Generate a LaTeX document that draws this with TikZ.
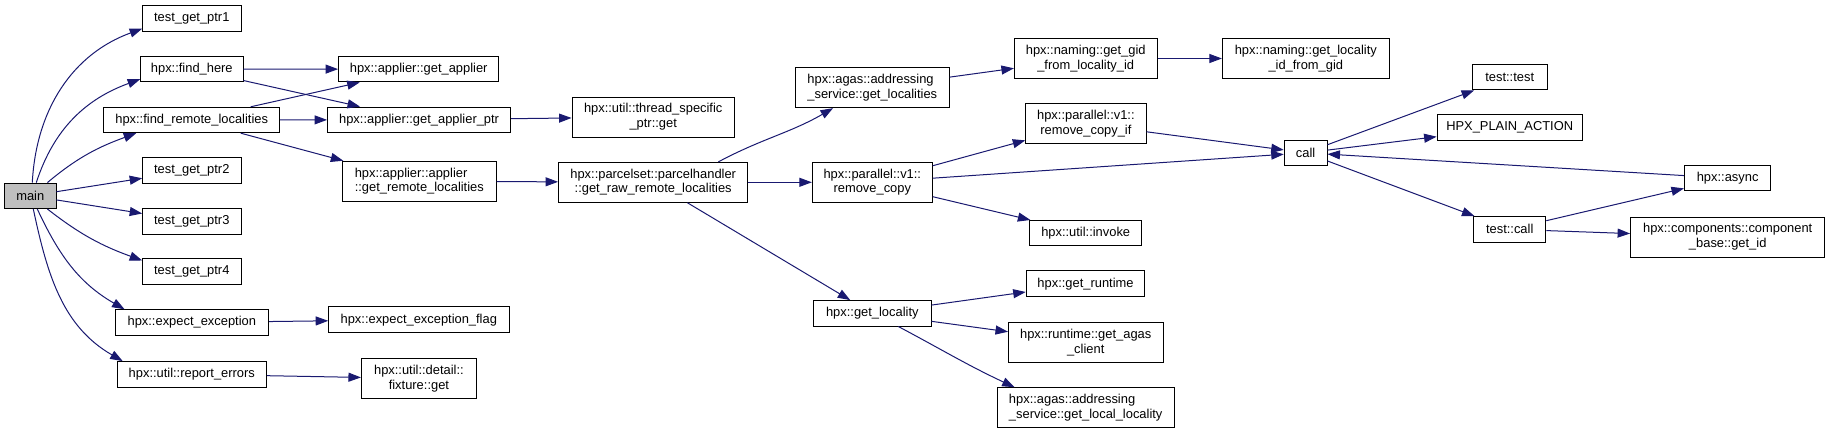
\documentclass[tikz,border=0pt]{standalone}
\usepackage{fontspec}
\setmainfont{Liberation Sans}
\usepackage{tikz}
\usetikzlibrary{arrows.meta}
\definecolor{callblue}{HTML}{191970}
\definecolor{rootgray}{HTML}{BFBFBF}
\tikzset{
  fn/.style={draw=black,fill=white,line width=0.9pt,inner xsep=0pt,inner ysep=0pt,
    minimum height=25.5pt,align=center,font=\fontsize{12.9}{14.7}\selectfont},
  fntwo/.style={fn,minimum height=40pt},
  edge/.style={draw=callblue,line width=1pt,-{Triangle[length=12.5pt,width=9pt]}}
}

\begin{document}
\begin{tikzpicture}[x=1pt,y=1pt]
\useasboundingbox (0,0) rectangle (1831,434);
% first column
\node[fn,fill=rootgray,minimum width=51.3pt] (main) at (30.3,238.2) {main};
\node[fn,minimum width=98.3pt] (tptr1) at (191.8,415.5) {test\_get\_ptr1};
\node[fn,minimum width=102.3pt] (findhere) at (191.8,365) {hpx::find\_here};
\node[fn,minimum width=176pt] (findremote) at (191.7,314) {hpx::find\_remote\_localities};
\node[fn,minimum width=98.3pt] (tptr2) at (191.8,263.5) {test\_get\_ptr2};
\node[fn,minimum width=98.3pt] (tptr3) at (191.8,212.7) {test\_get\_ptr3};
\node[fn,minimum width=98.3pt] (tptr4) at (191.8,162.3) {test\_get\_ptr4};
\node[fn,minimum width=153.6pt] (expexc) at (191.8,111.5) {hpx::expect\_exception};
\node[fn,minimum width=149.3pt] (reperr) at (191.8,59.7) {hpx::util::report\_errors};
% second column
\node[fn,minimum width=160.3pt] (getapplier) at (418.7,364.8) {hpx::applier::get\_applier};
\node[fn,minimum width=183.2pt] (getapplierptr) at (419.1,314.2) {hpx::applier::get\_applier\_ptr};
\node[fntwo,align=left,minimum width=153.6pt] (remotelocs) at (419.3,252.8) {hpx::applier::applier\\::get\_remote\_localities};
\node[fn,minimum width=180.3pt] (expflag) at (418.8,114.3) {hpx::expect\_exception\_flag};
\node[fntwo,minimum width=115pt] (fixtureget) at (418.9,55.5) {hpx::util::detail::\\fixture::get};
% third and fourth column
\node[fntwo,minimum width=162.4pt] (tsget) at (653.2,317) {hpx::util::thread\_specific\\\_ptr::get};
\node[fntwo,minimum width=189.4pt] (rawlocs) at (653.2,251.7) {hpx::parcelset::parcelhandler\\::get\_raw\_remote\_localities};
\node[fntwo,align=left,minimum width=153.6pt] (agaslocs) at (872.3,346.3) {hpx::agas::addressing\\\_service::get\_localities};
\node[fntwo,minimum width=120pt] (rmcopy) at (872.3,251.7) {hpx::parallel::v1::\\remove\_copy};
\node[fn,minimum width=117.4pt] (getloc) at (872.3,120.7) {hpx::get\_locality};
% fifth column
\node[fntwo,minimum width=142.7pt] (gidfromloc) at (1085.7,375.5) {hpx::naming::get\_gid\\\_from\_locality\_id};
\node[fntwo,minimum width=120.3pt] (rmcopyif) at (1085.9,310.2) {hpx::parallel::v1::\\remove\_copy\_if};
\node[fn,minimum width=112.4pt] (invoke) at (1085.7,200.8) {hpx::util::invoke};
\node[fn,minimum width=118.7pt] (getrt) at (1085.5,150.3) {hpx::get\_runtime};
\node[fntwo,minimum width=154.5pt] (agasclient) at (1085.7,91.7) {hpx::runtime::get\_agas\\\_client};
\node[fntwo,align=left,minimum width=177.2pt] (localloc) at (1085.7,26.3) {hpx::agas::addressing\\\_service::get\_local\_locality};
% right part
\node[fntwo,minimum width=166.9pt] (locfromgid) at (1305.8,375.5) {hpx::naming::get\_locality\\\_id\_from\_gid};
\node[fn,minimum width=42.8pt] (call) at (1305.6,281.2) {call};
\node[fn,minimum width=74.7pt] (testtest) at (1509.7,356.8) {test::test};
\node[fn,minimum width=145.3pt] (plainaction) at (1509.7,306.3) {HPX\_PLAIN\_ACTION};
\node[fn,minimum width=72.3pt] (testcall) at (1509.7,204.7) {test::call};
\node[fn,minimum width=86.4pt] (async) at (1727.6,255.8) {hpx::async};
\node[fntwo,minimum width=194.3pt] (getid) at (1727.7,197) {hpx::components::component\\\_base::get\_id};
% fan out of main
\draw[edge] ([xshift=2pt]main.north) to[out=87,in=200] ([yshift=3pt]tptr1.south west);
\draw[edge] ([xshift=6pt]main.north) to[out=72,in=200] ([yshift=3pt]findhere.south west);
\draw[edge] ([xshift=-9pt]main.north east) to[out=40,in=200] ([xshift=33pt]findremote.south west);
\draw[edge] ([xshift=-9pt]main.south east) to[out=-38,in=160] ([yshift=-2pt]tptr4.north west);
\draw[edge] ([xshift=7pt]main.south) to[out=-65,in=150] ([xshift=10pt]expexc.north west);
\draw[edge] ([xshift=3pt]main.south) to[out=-78,in=150] ([xshift=6pt]reperr.north west);
\draw[edge] ([xshift=-30pt]rawlocs.north east) to[out=28,in=210] ([xshift=38pt]agaslocs.south west);
\draw[edge] ([xshift=26pt]getloc.south) to[out=-28,in=155] ([xshift=18pt]localloc.north west);
\foreach \a/\b in {main/tptr2,main/tptr3,findhere/getapplier,findhere/getapplierptr,
  findremote/getapplier,findremote/getapplierptr,findremote/remotelocs,getapplierptr/tsget,
  remotelocs/rawlocs,expexc/expflag,reperr/fixtureget,rawlocs/rmcopy,rawlocs/getloc,
  agaslocs/gidfromloc,gidfromloc/locfromgid,rmcopy/rmcopyif,rmcopy/call,rmcopy/invoke,
  rmcopyif/call,getloc/getrt,getloc/agasclient,call/testtest,call/plainaction,call/testcall,
  testcall/async,testcall/getid,async/call}
  \draw[edge] (\a) -- (\b);
\end{tikzpicture}
\end{document}
